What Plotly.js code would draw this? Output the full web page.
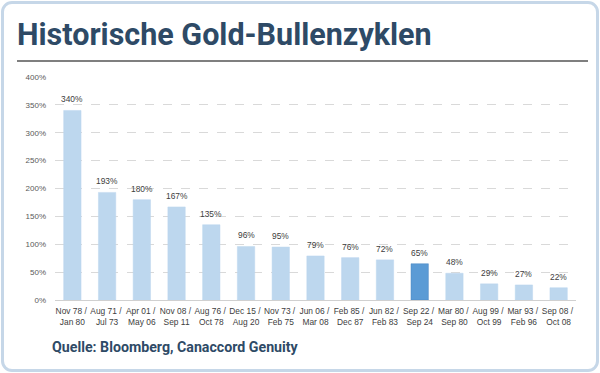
<!DOCTYPE html>
<html>
<head>
<meta charset="utf-8">
<script src="https://cdn.plot.ly/plotly-3.0.1.min.js"></script>
<style>
html,body{margin:0;padding:0;background:#fff;}
#card{position:absolute;left:1px;top:1px;width:592px;height:365px;border:3px solid #c6d7e8;border-radius:11px;background:#fff;}
#chart{position:absolute;left:0;top:0;width:600px;height:373px;}
</style>
</head>
<body>
<div id="card"></div>
<div id="chart"></div>
<script>
const startLabels = ["Nov 78","Aug 71","Apr 01","Nov 08","Aug 76","Dec 15","Nov 73","Jun 06","Feb 85","Jun 82","Sep 22","Mar 80","Aug 99","Mar 93","Sep 08"];
const endLabels   = ["Jan 80","Jul 73","May 06","Sep 11","Oct 78","Aug 20","Feb 75","Mar 08","Dec 87","Feb 83","Sep 24","Sep 80","Oct 99","Feb 96","Oct 08"];
const gains       = [340,193,180,167,135,96,95,79,76,72,65,48,29,27,22];
const highlight   = "Sep 22";
const yTicks      = [0,50,100,150,200,250,300,350,400];

const categories = startLabels.map((s,i)=> s + " / <br>" + endLabels[i]);
const colors = startLabels.map(s => s === highlight ? "#5b9bd5" : "#bdd7ee");
const lineColors = startLabels.map(s => s === highlight ? "#4a86c0" : "#bdd7ee");

const trace = {
  type: "bar",
  x: categories,
  y: gains,
  marker: {color: colors, line: {color: lineColors, width: 0.5}},
  hoverinfo: "skip"
};

const labelFont = {family: "Liberation Sans, Arial, sans-serif", size: 8.4, color: "#404040"};
const valueAnnotations = gains.map((v,i) => ({
  x: categories[i], y: v, xref: "x", yref: "y",
  text: v + "%", showarrow: false, yanchor: "bottom", yshift: 4,
  font: labelFont
}));

const plotW = 600 - 55 - 24, plotH = 373 - 77 - 73;
const px = x => (x - 55) / plotW;
const py = y => (373 - 73 - y) / plotH;

const layout = {
  width: 600, height: 373,
  paper_bgcolor: "rgba(0,0,0,0)",
  plot_bgcolor: "rgba(0,0,0,0)",
  margin: {l: 55, r: 24, t: 77, b: 73},
  bargap: 0.5,
  showlegend: false,
  xaxis: {
    type: "category",
    tickfont: {family: "Liberation Sans, Arial, sans-serif", size: 8.4, color: "#404040"},
    ticks: "", showgrid: false, showline: false, zeroline: false,
    tickangle: 0, automargin: false, ticklabelstandoff: 5
  },
  yaxis: {
    range: [0, 400],
    tickvals: yTicks,
    ticktext: yTicks.map(v => v + "%"),
    tickfont: {family: "Liberation Sans, Arial, sans-serif", size: 8, color: "#595959"},
    showgrid: true, gridcolor: "#d9d9d9", griddash: "dash", gridwidth: 1,
    zeroline: true, zerolinecolor: "#d0d0d0", zerolinewidth: 1,
    showline: false, ticks: "", ticklabelstandoff: 8, automargin: false
  },
  shapes: [
    {type: "line", xref: "paper", yref: "paper", x0: px(17), x1: px(588), y0: py(61), y1: py(61),
     line: {color: "#555555", width: 1.5}}
  ],
  annotations: valueAnnotations.concat([
    {text: "<b>Historische Gold-Bullenzyklen</b>", xref: "paper", yref: "paper",
     x: px(15), y: py(34), xanchor: "left", yanchor: "middle", showarrow: false,
     font: {family: "Roboto, sans-serif", size: 30.5, color: "#2e4a66"}},
    {text: "<b>Quelle: Bloomberg, Canaccord Genuity</b>", xref: "paper", yref: "paper",
     x: px(50), y: py(347), xanchor: "left", yanchor: "middle", showarrow: false,
     font: {family: "Roboto, sans-serif", size: 14.2, color: "#2e4a66"}}
  ])
};

Plotly.newPlot("chart", [trace], layout, {displayModeBar: false, staticPlot: true});
</script>
</body>
</html>
